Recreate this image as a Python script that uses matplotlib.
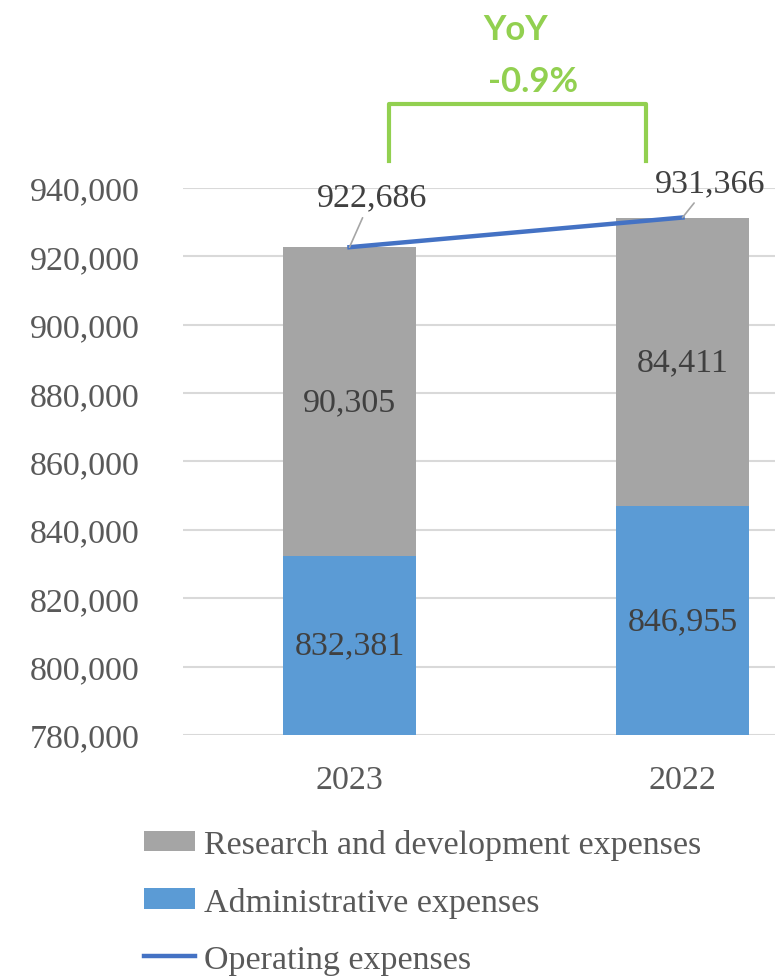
import matplotlib.pyplot as plt
from matplotlib.ticker import FuncFormatter

years = ['2023', '2022']
admin = [832381, 846955]
rnd = [90305, 84411]
total = [922686, 931366]
yticks = [780000, 800000, 820000, 840000, 860000, 880000, 900000, 920000, 940000]

plt.rcParams['font.family'] = ['Liberation Serif', 'DejaVu Serif']
fs = 24.5
txt = '#595959'

fig = plt.figure(figsize=(7.75, 9.79), dpi=100)
ax = fig.add_axes([183/775, 1 - 736/979, 666/775, 547/979])

x = list(range(len(years)))
ymin, ymax = yticks[0], yticks[-1]

ax.bar(x, admin, width=0.4, color='#5B9BD5', label='Administrative expenses', zorder=2)
ax.bar(x, rnd, width=0.4, bottom=admin, color='#A5A5A5',
       label='Research and development expenses', zorder=2)
ax.plot(x, total, color='#4472C4', lw=3.2, label='Operating expenses', zorder=3,
        clip_on=False)

ax.set_xlim(-0.5, 1.5)
ax.set_ylim(ymin, ymax)
ax.set_yticks(yticks)
ax.yaxis.set_major_formatter(FuncFormatter(lambda v, p: f'{int(v):,}'))
ax.set_xticks(x)
ax.set_xticklabels(years)
ax.tick_params(axis='both', length=0, labelsize=fs, colors=txt)
ax.tick_params(axis='y', pad=31)
ax.tick_params(axis='x', pad=21)
ax.grid(axis='y', color='#D9D9D9', lw=1.5, zorder=0)
ax.set_axisbelow(True)
for s in ax.spines.values():
    s.set_visible(False)

# labels inside bars
for i in x:
    ax.text(i, (max(ymin, 0) + admin[i]) / 2, f'{admin[i]:,}', ha='center', va='center',
            fontsize=fs, color='#404040', zorder=4)
    ax.text(i, admin[i] + rnd[i] / 2, f'{rnd[i]:,}', ha='center', va='center',
            fontsize=fs, color='#404040', zorder=4)

# labels for the line, with leader lines
offs = [(16, 36), (20, 25)]
for i in x:
    ax.annotate(f'{total[i]:,}', (i, total[i]), xytext=offs[i], textcoords='offset points',
                ha='center', va='center', fontsize=fs, color='#404040',
                arrowprops=dict(arrowstyle='-', color='#A6A6A6', lw=1.2,
                                shrinkA=2, shrinkB=0),
                annotation_clip=False)

# YoY bracket
green = '#92D050'
yoy = (total[0] - total[1]) / total[1] * 100
b_lo = ymax + 7900
b_hi = ymax + 24600
ax.plot([0.12, 0.12, 0.89, 0.89], [b_lo, b_hi, b_hi, b_lo], color=green, lw=3,
        solid_joinstyle='round', clip_on=False)
ax.text(0.5, ymax + 46500, 'YoY', ha='center', va='center', fontsize=25,
        fontweight='bold', color=green, family='Lato')
ax.text(0.55, ymax + 31300, f'{yoy:.1f}%', ha='center', va='center', fontsize=25,
        fontweight='bold', color=green, family='Lato')

h, l = ax.get_legend_handles_labels()
order = [2, 1, 0]
fig.legend([h[k] for k in order], [l[k] for k in order], loc='upper left',
           bbox_to_anchor=(144/775, 1 - 830/979), frameon=False, fontsize=fs,
           labelcolor=txt, handlelength=1.5, handleheight=0.55, handletextpad=0.25,
           labelspacing=0.78, borderpad=0, borderaxespad=0)

fig.savefig('out.png', dpi=100)
